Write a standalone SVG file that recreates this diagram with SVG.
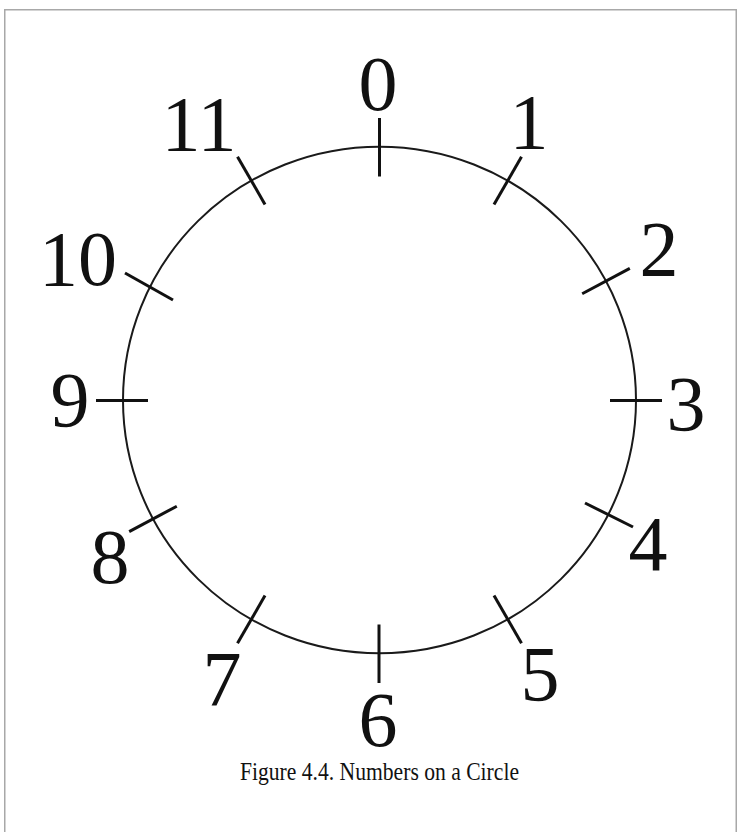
<svg xmlns="http://www.w3.org/2000/svg" width="737" height="832" viewBox="0 0 737 832">
<style>
.frame{fill:none;stroke:#a8a8a8;stroke-width:1.5}
.circ{fill:none;stroke:#1a1a1a;stroke-width:2}
.tick{stroke:#111;stroke-width:3;stroke-linecap:butt}
.num{font-family:"Liberation Serif","Times New Roman",serif;font-size:78px;fill:#111;text-anchor:middle}
.cap{font-family:"Liberation Serif","Times New Roman",serif;font-size:25px;fill:#111;text-anchor:middle}
</style>
<rect width="737" height="832" fill="#ffffff"/>
<path class="frame" d="M4.75 840 V9.75 H736.25 V840"/>
<ellipse id="circle" class="circ" cx="379.5" cy="400" rx="256.5" ry="253.3"/>
<g id="ticks">
<line class="tick" x1="379.5" y1="118" x2="379.5" y2="176.5"/>
<line class="tick" x1="521.5" y1="156.8" x2="494" y2="204.4"/>
<line class="tick" x1="629.8" y1="268.4" x2="582.2" y2="293.8"/>
<line class="tick" x1="610" y1="400.5" x2="662" y2="400.5"/>
<line class="tick" x1="585" y1="503" x2="633" y2="527"/>
<line class="tick" x1="521.5" y1="643.2" x2="494" y2="595.6"/>
<line class="tick" x1="379" y1="624.5" x2="379" y2="683"/>
<line class="tick" x1="237.5" y1="643.2" x2="265" y2="595.6"/>
<line class="tick" x1="129.2" y1="531.6" x2="176.8" y2="506.2"/>
<line class="tick" x1="96" y1="400.5" x2="148" y2="400.5"/>
<line class="tick" x1="125" y1="273" x2="173" y2="300"/>
<line class="tick" x1="237.5" y1="156.8" x2="265" y2="204.4"/>
</g>
<g id="n0"><text class="num" x="378" y="110">0</text></g>
<g id="n1"><text class="num" x="529" y="148">1</text></g>
<g id="n2"><text class="num" x="659" y="275">2</text></g>
<g id="n3"><text class="num" x="686" y="430">3</text></g>
<g id="n4"><text class="num" x="648" y="570">4</text></g>
<g id="n5"><text class="num" x="540" y="700">5</text></g>
<g id="n6"><text class="num" x="378" y="746">6</text></g>
<g id="n7"><text class="num" x="222" y="705">7</text></g>
<g id="n8"><text class="num" x="110" y="583">8</text></g>
<g id="n9"><text class="num" x="70" y="426">9</text></g>
<g id="n10"><text class="num" x="78" y="285">10</text></g>
<g id="n11"><text class="num" x="199" y="150">11</text></g>
<g id="caption"><text class="cap" x="379.5" y="780" textLength="279" lengthAdjust="spacingAndGlyphs">Figure 4.4. Numbers on a Circle</text></g>
</svg>
